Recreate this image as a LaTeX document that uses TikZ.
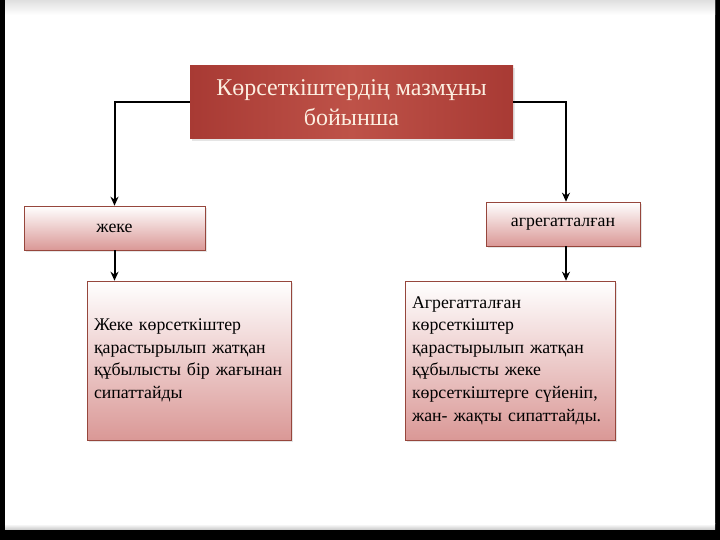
\documentclass[tikz,border=0pt]{standalone}
\usepackage{fontspec}
\setmainfont{Liberation Serif}
\usetikzlibrary{arrows.meta,shadows}

\definecolor{HeadRed}{RGB}{168,58,52}
\definecolor{HeadMid}{RGB}{190,82,72}
\definecolor{HeadText}{RGB}{252,238,224}
\definecolor{BoxLine}{RGB}{150,70,60}
\definecolor{BoxPink}{RGB}{218,152,150}

\begin{document}
\begin{tikzpicture}[x=1pt,y=1pt]
	\tikzset{HeadStyle/.style =
		{shape = rectangle,
			left color = HeadRed,
			right color = HeadRed,
			middle color = HeadMid,
			text = HeadText,
			font = \fontsize{24}{29.5}\selectfont,
			align = center,
			minimum width = 323pt,
			minimum height = 73pt,
			drop shadow = {opacity=0.2}},
		BoxStyle/.style =
		{draw = BoxLine,
			line width = 0.6pt,
			shape = rectangle,
			top color = white,
			bottom color = BoxPink,
			font = \fontsize{17.8}{22.6}\selectfont,
			drop shadow = {opacity=0.2, shadow xshift=2pt, shadow yshift=-2pt}},
		ArrowStyle/.style =
		{draw, line width = 2pt, -{Stealth[length=9pt,width=8pt]}}}
	% slide frame
	\useasboundingbox (0,0) rectangle (720,540);
	\fill[black] (0,0) rectangle (720,540);
	\fill[white, rounded corners=6pt] (5,10) rectangle (715,546);
	\shade[top color=gray!25, bottom color=white] (5,525) rectangle (715,540);
	\shade[top color=white, bottom color=gray!45] (5,10) rectangle (715,16);
	% nodes
	\node[HeadStyle] (top) at (351.5,437.5) {Көрсеткіштердің мазмұны\\бойынша};
	\node[BoxStyle, minimum width=181pt, minimum height=44pt] (jeke) at (114.5,312) {жеке};
	\node[BoxStyle, minimum width=154pt, minimum height=44pt] (agreg) at (563,316) {агрегатталған};
	\node[BoxStyle, minimum width=204pt, minimum height=159pt, text width=190pt, inner sep=7pt, align=left]
		(jekeText) at (189,179.5)
		{Жеке көрсеткіштер\\қарастырылып жатқан\\құбылысты бір жағынан\\сипаттайды};
	\node[BoxStyle, minimum width=210pt, minimum height=159pt, text width=196pt, inner sep=7pt, align=left]
		(agregText) at (510,179.5)
		{Агрегатталған\\көрсеткіштер\\қарастырылып жатқан\\құбылысты жеке\\көрсеткіштерге сүйеніп,\\жан- жақты сипаттайды.};
	% connectors
	\draw[ArrowStyle] (top.west) -| (jeke.north);
	\draw[ArrowStyle] (top.east) -| ([xshift=3pt]agreg.north);
	\draw[ArrowStyle] (jeke.south) -- (jeke.south |- jekeText.north);
	\draw[ArrowStyle] ([xshift=3pt]agreg.south) -- ([xshift=3pt]agreg.south |- agregText.north);
\end{tikzpicture}
\end{document}
